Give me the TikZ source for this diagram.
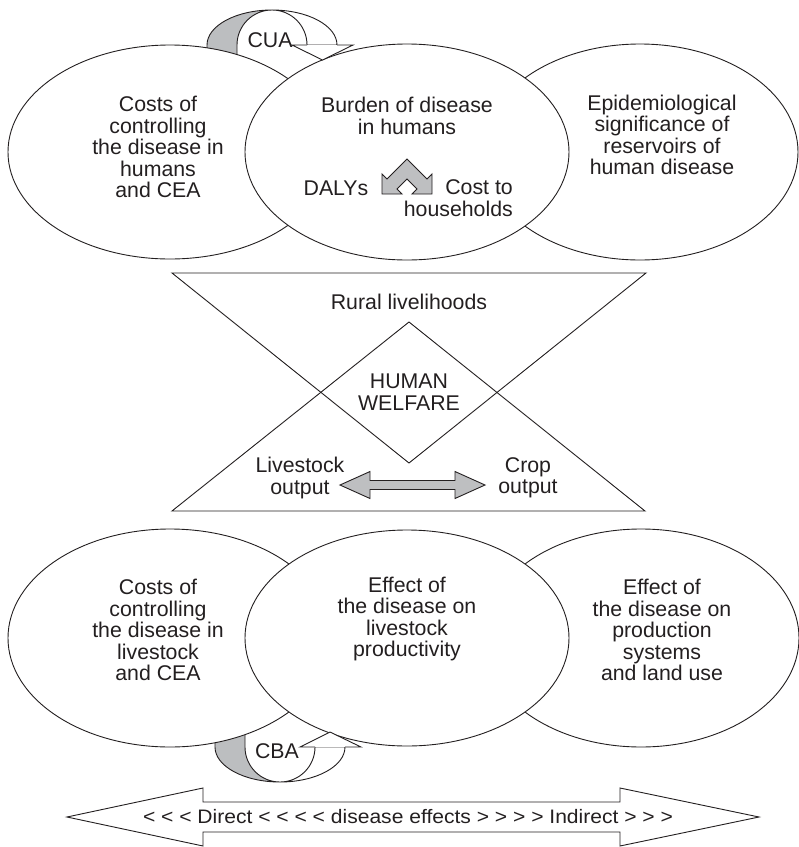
\documentclass[tikz,border=0pt]{standalone}
\usepackage{fontspec}
\setmainfont{Liberation Sans}
\usetikzlibrary{shapes.geometric}
\definecolor{ink}{RGB}{35,31,32}
\definecolor{ribbon}{RGB}{188,190,192}
\definecolor{arrowgrey}{RGB}{190,191,193}
\begin{document}
\begin{tikzpicture}[x=1pt,y=-1pt,
  bubble/.style={draw=ink, fill=white, ellipse, inner sep=0pt, line width=0.9pt},
  txt/.style={text=ink, align=center, inner sep=0pt, font=\fontsize{21.3}{21.5}\selectfont},
  outline/.style={draw=ink, line width=0.9pt, line join=miter},
]
\useasboundingbox (0,0) rectangle (799,847);

% ---- CUA loop (behind the upper bubbles)
\path[fill=ribbon, outline] (207,95) -- (207,45)
  arc[start angle=180, end angle=270, x radius=65, y radius=35]
  arc[start angle=270, end angle=180, radius=35] -- (237,95) -- cycle;
\path[fill=white, outline] (272,10)
  arc[start angle=270, end angle=360, x radius=65, y radius=35]
  -- (307,45) arc[start angle=0, end angle=-90, radius=35];

% ---- CBA loop (behind the lower bubbles)
\path[fill=ribbon, outline] (215,690) -- (215,747)
  arc[start angle=180, end angle=90, x radius=65, y radius=35]
  arc[start angle=90, end angle=180, radius=35] -- (245,690) -- cycle;
\path[fill=white, outline] (280,782)
  arc[start angle=90, end angle=0, x radius=65, y radius=35]
  -- (315,747) arc[start angle=0, end angle=90, radius=35];

% ---- upper row of bubbles
\node[bubble, minimum width=324pt, minimum height=214pt] (hcost) at (170,152) {};
\node[bubble, minimum width=316pt, minimum height=216pt] (reserv) at (640,152) {};
\node[bubble, minimum width=324pt, minimum height=216pt] (burden) at (407,152) {};

% ---- lower row of bubbles
\node[bubble, minimum width=324pt, minimum height=218pt] (lcost) at (170,638) {};
\node[bubble, minimum width=316pt, minimum height=218pt] (prodsys) at (641,638) {};
\node[bubble, minimum width=324pt, minimum height=216pt] (lprod) at (407,638) {};

% ---- arrow heads of the two loops
\path[fill=white, outline] (307,45) -- (292,45) -- (322.5,60) -- (353,45) -- (337,45);
\path[fill=white, outline] (315,747) -- (300,747) -- (330,732) -- (361,747) -- (345,747);

% ---- bubble texts
\node[txt] (t-hcost) at (158,147) {Costs of\\controlling\\the disease in\\humans\\and CEA};
\node[txt] (t-burden) at (407,116) {Burden of disease\\in humans};
\node[txt] (t-reserv) at (662,135) {Epidemiological\\significance of\\reservoirs of\\human disease};
\node[txt] (t-dalys) at (336,188) {DALYs};
\node[txt, align=right, anchor=east] (t-house) at (513,198) {Cost to\\households};
\node[txt] (t-lcost) at (158,630) {Costs of\\controlling\\the disease in\\livestock\\and CEA};
\node[txt] (t-lprod) at (407,619) {Effect of\\the disease on\\livestock\\productivity};
\node[txt] (t-prodsys) at (662,630) {Effect of\\the disease on\\production\\systems\\and land use};
\node[txt] (t-cua) at (270,40) {CUA};
\node[txt] (t-cba) at (277,751) {CBA};

% ---- bent two-way arrow between DALYs and household costs
\path[fill=arrowgrey, outline] (382,194) -- (402,194) -- (397,189) -- (407,179)
  -- (417,189) -- (412,194) -- (432,194) -- (432,174) -- (427,179)
  -- (407,159) -- (387,179) -- (382,174) -- cycle;

% ---- rural livelihoods triangles
\coordinate (vtl) at (172,273);
\coordinate (vtr) at (646,273);
\coordinate (vbot) at (409,463);
\coordinate (ubl) at (172,511);
\coordinate (ubr) at (645,511);
\coordinate (utop) at (409,322);
\draw[outline] (vtl) -- (vtr) -- (vbot) -- cycle;
\draw[outline] (ubl) -- (ubr) -- (utop) -- cycle;
\node[txt] (t-rural) at (409,302) {Rural livelihoods};
\node[txt] (t-welfare) at (409,392) {HUMAN\\WELFARE};
\node[txt] (t-live) at (300,478) {Livestock\\output};
\node[txt] (t-crop) at (528,478) {Crop\\output};

% ---- livestock / crop two-way arrow
\path[fill=arrowgrey, outline] (340,485) -- (370,471.5) -- (370,480.5) -- (455,480.5)
  -- (455,471.5) -- (485,485) -- (455,498.5) -- (455,489.5) -- (370,489.5)
  -- (370,498.5) -- cycle;

% ---- direct / indirect effects arrow
\path[fill=white, outline] (67,817) -- (203,788) -- (203,802) -- (620,802) -- (620,788)
  -- (759,817) -- (620,846) -- (620,832) -- (203,832) -- (203,846) -- cycle;
\node[txt, font=\fontsize{19.5}{20}\selectfont] (t-effects) at (408,817)
  {\scalebox{1.08}[1]{< < < Direct < < < < disease effects > > > > Indirect > > >}};
\end{tikzpicture}
\end{document}
